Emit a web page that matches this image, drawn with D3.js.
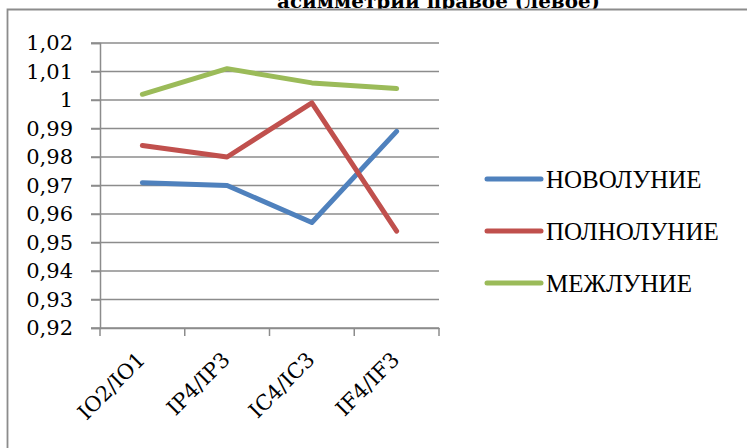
<!DOCTYPE html>
<html><head><meta charset="utf-8">
<script src="https://cdnjs.cloudflare.com/ajax/libs/d3/7.8.5/d3.min.js"></script>
<style>html,body{margin:0;padding:0;background:#fff;overflow:hidden}</style>
</head><body><svg id="c" width="747" height="448"></svg>
<script>
const categories = ["IO2/IO1", "IP4/IP3", "IC4/IC3", "IF4/IF3"];
const seriesNames = ["НОВОЛУНИЕ", "ПОЛНОЛУНИЕ", "МЕЖЛУНИЕ"];
const novolunie = [0.971, 0.970, 0.957, 0.989];
const polnolunie = [0.984, 0.980, 0.999, 0.954];
const mezhlunie = [1.002, 1.011, 1.006, 1.004];
const yTicks = [0.92, 0.93, 0.94, 0.95, 0.96, 0.97, 0.98, 0.99, 1.00, 1.01, 1.02];
const colors = ["#4F81BD", "#C0504D", "#9BBB59"];
const titleText = "асимметрии правое (левое)";

const series = [novolunie, polnolunie, mezhlunie];
const svg = d3.select("#c");
const font = "'DejaVu Serif', 'Liberation Serif', serif";
const font2 = "'Liberation Serif', 'DejaVu Serif', serif";

// title (partly above the visible area, as in the reference)
svg.append("defs").append("clipPath").attr("id", "tclip")
  .append("rect").attr("x", 0).attr("y", 0).attr("width", 747).attr("height", 9);
svg.append("text").attr("x", 277).attr("y", 8)
  .attr("clip-path", "url(#tclip)")
  .attr("font-family", font).attr("font-weight", "bold").attr("font-size", 19)
  .attr("textLength", 323).attr("lengthAdjust", "spacingAndGlyphs")
  .attr("fill", "#000").text(titleText);

// outer chart border
svg.append("path").attr("d", "M7.5,449 V9.5 H748")
  .attr("fill", "none").attr("stroke", "#8c8c8c").attr("stroke-width", 1.8);

const x = d3.scaleBand().domain(categories).range([100, 439]);
const y = d3.scaleLinear().domain([0.92, 1.02]).range([328, 43]);

const fmt = v => (Math.round(v * 100) / 100).toString().replace(".", ",");

// grid lines
svg.append("g").selectAll("line").data(yTicks).join("line")
  .attr("x1", 91).attr("x2", 439)
  .attr("y1", d => y(d)).attr("y2", d => y(d))
  .attr("stroke", "#8c8c8c").attr("stroke-width", 1.5);

// y axis
const yAxis = svg.append("g").attr("transform", "translate(100,0)")
  .call(d3.axisLeft(y).tickValues(yTicks).tickFormat(fmt).tickSize(9).tickPadding(18));
yAxis.select(".domain").attr("stroke", "#8c8c8c").attr("stroke-width", 1.5);
yAxis.selectAll(".tick line").attr("stroke", "#8c8c8c").attr("stroke-width", 1.5);
yAxis.selectAll("text").attr("font-family", font).attr("font-size", 21).attr("fill", "#000");

// x axis
const xAxis = svg.append("g").attr("transform", "translate(0,328)")
  .call(d3.axisBottom(x).tickSize(0).tickFormat(""));
xAxis.select(".domain").attr("stroke", "#8c8c8c").attr("stroke-width", 1.5);
const bounds = [...categories.map(c => x(c)), x.range()[1]];
svg.append("g").selectAll("line").data(bounds).join("line")
  .attr("x1", d => d).attr("x2", d => d).attr("y1", 328).attr("y2", 336)
  .attr("stroke", "#8c8c8c").attr("stroke-width", 1.5);
svg.append("g").selectAll("text").data(categories).join("text")
  .attr("transform", d => `translate(${x(d) + x.bandwidth() / 2 + 4},361) rotate(-45)`)
  .attr("text-anchor", "end").attr("font-family", font).attr("font-size", 21)
  .attr("fill", "#000").text(d => d);

// lines
const line = d3.line().x((d, i) => x(categories[i]) + x.bandwidth() / 2).y(d => y(d));
svg.append("g").selectAll("path").data(series).join("path")
  .attr("d", d => line(d)).attr("fill", "none")
  .attr("stroke", (d, i) => colors[i]).attr("stroke-width", 5)
  .attr("stroke-linecap", "round").attr("stroke-linejoin", "round");

// legend
const lg = svg.append("g").selectAll("g").data(seriesNames).join("g")
  .attr("transform", (d, i) => `translate(487,${179 + i * 52})`);
lg.append("line").attr("x1", 0).attr("x2", 54).attr("y1", 0).attr("y2", 0)
  .attr("stroke", (d, i) => colors[i]).attr("stroke-width", 5).attr("stroke-linecap", "round");
lg.append("text").attr("x", 59).attr("y", 9).attr("font-family", font2)
  .attr("font-size", 25).attr("fill", "#000").text(d => d);
</script></body></html>
